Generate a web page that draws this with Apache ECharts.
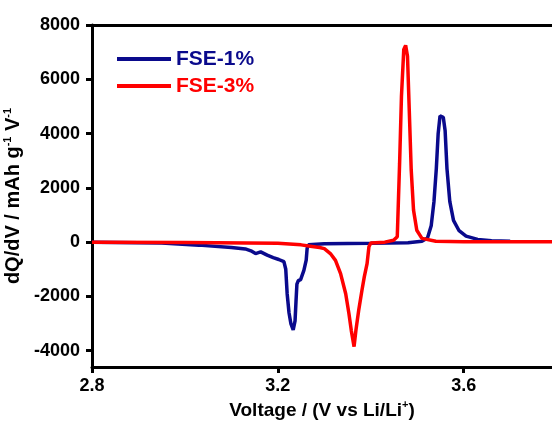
<!DOCTYPE html>
<html>
<head>
<meta charset="utf-8">
<script src="https://cdn.jsdelivr.net/npm/echarts@6/dist/echarts.min.js"></script>
<style>
  html, body { margin: 0; padding: 0; background: #fff; }
  #chart { width: 552px; height: 423px; }
</style>
</head>
<body>
<div id="chart"></div>
<script>
// tick labels
const xTicks = [2.8, 3.2, 3.6]
const yTicks = [-4000, -2000, 0, 2000, 4000, 6000, 8000]

// FSE-1% (voltage, dQ/dV)
const fse1Volt = [2.80, 2.95, 3.03, 3.10, 3.13, 3.142, 3.152, 3.163, 3.177, 3.19, 3.202, 3.213, 3.217, 3.220, 3.224, 3.228, 3.233, 3.237, 3.239, 3.241, 3.244, 3.249, 3.256, 3.261, 3.263, 3.266, 3.30, 3.40, 3.48, 3.51, 3.522, 3.530, 3.536, 3.541, 3.545, 3.549, 3.552, 3.556, 3.560, 3.564, 3.570, 3.578, 3.590, 3.605, 3.63, 3.66, 3.70]
const fse1Val = [0, -30, -110, -200, -250, -320, -420, -360, -480, -570, -640, -720, -1000, -1900, -2600, -3000, -3230, -2900, -2200, -1550, -1420, -1380, -1040, -660, -230, -100, -60, -40, -20, 30, 150, 600, 1500, 2700, 4000, 4650, 4700, 4600, 4100, 2700, 1500, 800, 420, 220, 100, 50, 30]

// FSE-3%
const fse3Volt = [2.80, 3.00, 3.20, 3.25, 3.27, 3.29, 3.30, 3.313, 3.324, 3.335, 3.346, 3.353, 3.358, 3.364, 3.368, 3.374, 3.381, 3.386, 3.392, 3.396, 3.40, 3.43, 3.449, 3.457, 3.462, 3.466, 3.471, 3.475, 3.479, 3.483, 3.487, 3.492, 3.499, 3.51, 3.54, 3.60, 3.79]
const fse3Val = [0, -10, -40, -100, -150, -200, -240, -420, -670, -1160, -1900, -2640, -3250, -3850, -3250, -2510, -1770, -1280, -790, -170, -30, 0, 70, 200, 2900, 5370, 7100, 7250, 6850, 4760, 2660, 1180, 440, 140, 30, 10, 10]

const pairs = (xs, ys) => xs.map((x, i) => [x, ys[i]])

const font = 'Liberation Sans, Arial, sans-serif'
const navy = '#0a0a8c'
const red = '#ff0000'

let myChart = echarts.init(document.getElementById('chart'))

const supStyle = { fontSize: 11, fontWeight: 'bold', fontFamily: font, color: '#000', verticalAlign: 'top', padding: [0, 0, 10, 0] }

const option = {
    animation: false,
    backgroundColor: '#fff',
    grid: { left: 92, right: 0, top: 25, bottom: 56, containLabel: false, outerBoundsMode: 'none' },
    legend: {
        orient: 'vertical',
        left: 112, top: 43,
        icon: 'rect',
        itemWidth: 54, itemHeight: 4, itemGap: 5,
        textStyle: { fontFamily: font, fontWeight: 'bold', fontSize: 21, lineHeight: 22 },
        data: [
            { name: 'FSE-1%', textStyle: { color: navy } },
            { name: 'FSE-3%', textStyle: { color: red } }
        ]
    },
    xAxis: [{
        type: 'value', min: 2.8, max: 3.79,
        name: 'Voltage / (V vs Li/Li{sup|+})',
        nameLocation: 'middle', nameGap: 32,
        nameTextStyle: {
            fontFamily: font, fontWeight: 'bold', fontSize: 19, color: '#000',
            rich: { sup: supStyle }
        },
        axisLine: { onZero: false, lineStyle: { color: '#000', width: 3 } },
        axisTick: { inside: false, length: 6, lineStyle: { width: 3, color: '#000' }, customValues: xTicks },
        axisLabel: { margin: 10, fontFamily: font, fontWeight: 'bold', fontSize: 18, color: '#000', customValues: xTicks },
        splitLine: { show: false }
    }, {
        type: 'value', position: 'top', min: 2.8, max: 3.79,
        axisLine: { onZero: false, lineStyle: { color: '#000', width: 3 } },
        axisTick: { show: false }, axisLabel: { show: false }, splitLine: { show: false }
    }],
    yAxis: {
        type: 'value', min: -4600, max: 8000,
        name: 'dQ/dV / mAh g{sup|-1} V{sup|-1}',
        nameLocation: 'middle', nameGap: 48,
        nameTextStyle: {
            fontFamily: font, fontWeight: 'bold', fontSize: 20, color: '#000',
            rich: { sup: supStyle }
        },
        axisLine: { show: true, onZero: false, lineStyle: { color: '#000', width: 3 } },
        axisTick: { show: true, length: 6, lineStyle: { width: 3, color: '#000' }, customValues: yTicks },
        axisLabel: {
            margin: 12, fontFamily: font, fontWeight: 'bold', fontSize: 18, color: '#000', customValues: yTicks,
            formatter: v => String(v)
        },
        splitLine: { show: false }
    },
    series: [{
        name: 'FSE-1%', type: 'line', symbol: 'none',
        lineStyle: { color: navy, width: 3.5 }, itemStyle: { color: navy },
        data: pairs(fse1Volt, fse1Val)
    }, {
        name: 'FSE-3%', type: 'line', symbol: 'none',
        lineStyle: { color: red, width: 3.5 }, itemStyle: { color: red },
        data: pairs(fse3Volt, fse3Val)
    }]
}

myChart.setOption(option)
</script>
</body>
</html>
